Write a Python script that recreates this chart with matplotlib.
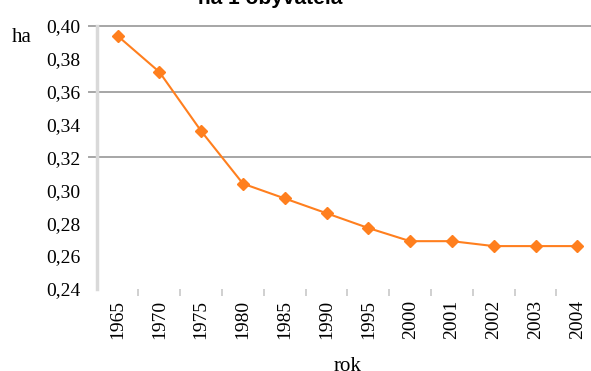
import matplotlib
matplotlib.use("Agg")
import matplotlib.pyplot as plt
from matplotlib.ticker import FuncFormatter, FixedLocator

# data
years = ["1965", "1970", "1975", "1980", "1985", "1990",
         "1995", "2000", "2001", "2002", "2003", "2004"]
ha_per_person = [0.394, 0.372, 0.336, 0.304, 0.295, 0.286,
                 0.277, 0.269, 0.269, 0.266, 0.266, 0.266]
y_ticks = [0.24, 0.26, 0.28, 0.30, 0.32, 0.34, 0.36, 0.38, 0.40]
grid_levels = [0.32, 0.36, 0.40]

W, H = 591, 371
fig = plt.figure(figsize=(W / 100, H / 100), dpi=100)
ax = fig.add_axes([96.7 / W, 82.2 / H, 501.5 / W, 262.8 / H])

x = list(range(len(years)))
ax.plot(x, ha_per_person, color="#ff7f1e", lw=1.5, marker="D",
        markersize=6.5, markeredgecolor="#ff7f1e", markerfacecolor="#ff7f1e",
        zorder=3)

ax.set_xlim(-0.5, len(years) - 0.5)
ax.set_ylim(0.24, 0.40)

for lv in grid_levels:
    ax.axhline(lv, xmin=-0.016, xmax=1, color="#a6a6a6", lw=1.4,
               clip_on=False, zorder=1)

for s in ["top", "right", "bottom"]:
    ax.spines[s].set_visible(False)
ax.spines["left"].set_color("#d9d9d9")
ax.spines["left"].set_linewidth(2.5)

ax.yaxis.set_major_locator(FixedLocator(y_ticks))
ax.yaxis.set_major_formatter(FuncFormatter(lambda v, p: f"{v:.2f}".replace(".", ",")))
ax.tick_params(axis="y", length=0, pad=12, labelsize=14, labelfontfamily="Liberation Serif")

ax.set_xticks(x)
ax.set_xticklabels(years, rotation=90, fontsize=14, family="Liberation Serif")
ax.set_xticks([i + 0.5 for i in x[:-1]], minor=True)
ax.tick_params(axis="x", which="major", length=0, pad=8)
ax.tick_params(axis="x", which="minor", length=5, width=1.2, color="#c8c8c8")

fig.text(11.5 / W, 1 - 37.5 / H, "ha", ha="left", va="center",
         fontsize=15, family="Liberation Serif")
fig.text(348 / W, 1 - 357 / H, "rok", ha="center", va="top",
         fontsize=15, family="Liberation Serif")
fig.text(270 / W, 1 - 4 / H, "na 1 obyvatela", ha="center", va="baseline",
         fontsize=15, fontweight="bold", family="Liberation Sans")

fig.savefig("out.png", dpi=100)
